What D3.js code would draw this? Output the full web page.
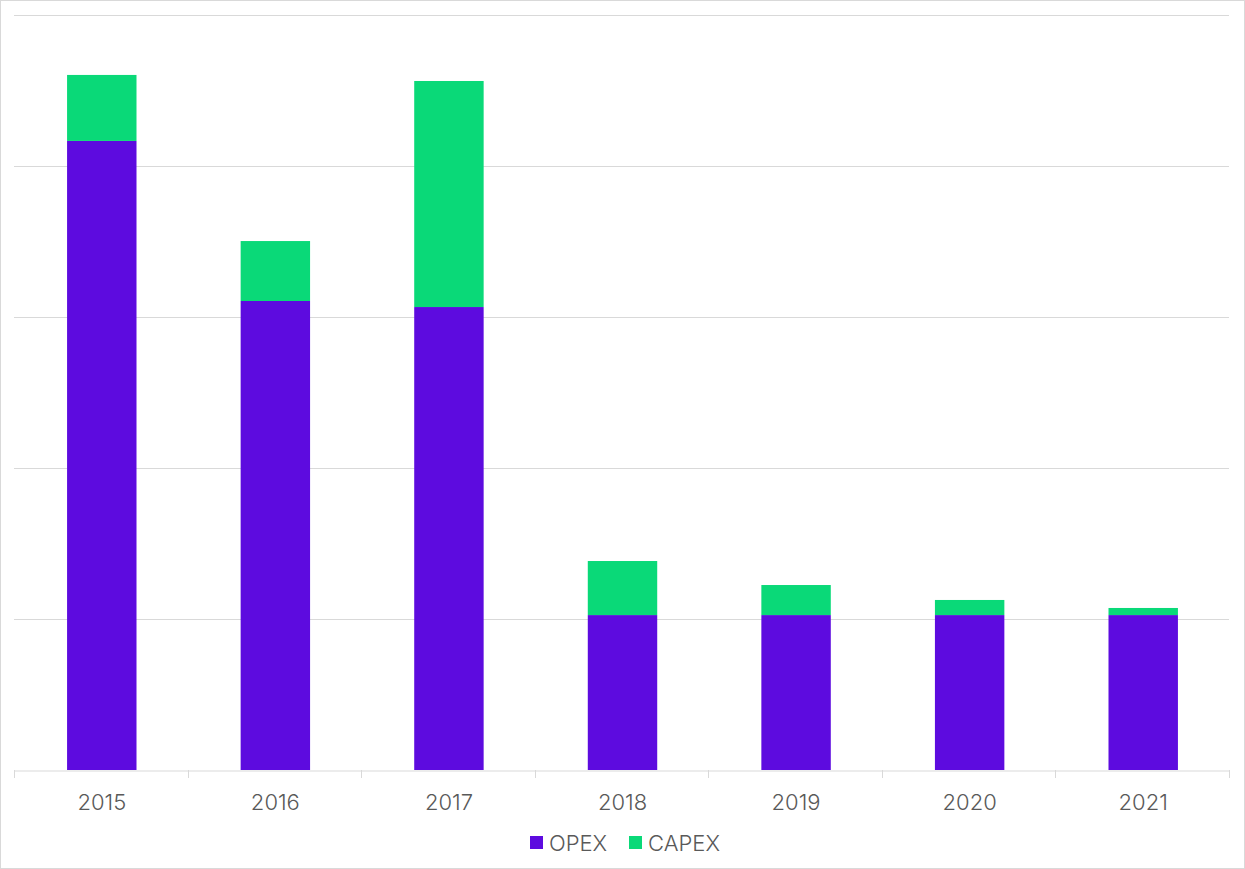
<!DOCTYPE html>
<html><head><meta charset="utf-8">
<script src="https://cdn.jsdelivr.net/npm/d3@7"></script>
<style>
html,body{margin:0;padding:0;background:#fff;}
svg{display:block;}
</style></head>
<body>
<svg id="chart" width="1245" height="869"></svg>
<script>
const years = ["2015","2016","2017","2018","2019","2020","2021"];
const opex  = [4.166, 3.106, 3.066, 1.026, 1.026, 1.026, 1.026];
const capex = [0.437, 0.397, 1.497, 0.358, 0.199, 0.100, 0.047];
const seriesNames = ["OPEX","CAPEX"];
const seriesColors = ["#5d0bdf","#0ad978"];
const yTicks = [0,1,2,3,4,5];

const W = 1245, H = 869;
const m = {left:14, right:16, top:15, bottom:99};
const svg = d3.select("#chart");
const font = "Inter, 'Open Sans', sans-serif";

svg.append("rect").attr("x",0.5).attr("y",0.5).attr("width",W-1).attr("height",H-1)
  .attr("fill","#fff").attr("stroke","#d9d9d9");

const x = d3.scaleBand().domain(years).range([m.left, W-m.right]).padding(0);
const y = d3.scaleLinear().domain([0,5]).range([H-m.bottom, m.top]);

// gridlines
svg.append("g").selectAll("line").data(yTicks.slice(1)).join("line")
  .attr("x1", m.left).attr("x2", W-m.right)
  .attr("y1", d=>Math.round(y(d))+0.5).attr("y2", d=>Math.round(y(d))+0.5)
  .attr("stroke","#d9d9d9").attr("stroke-width",1);

const rows = years.map((yr,i)=>({year:yr, OPEX:opex[i], CAPEX:capex[i]}));
const stack = d3.stack().keys(seriesNames)(rows);
const bw = x.bandwidth()*0.4;

svg.append("g").selectAll("g").data(stack).join("g")
  .attr("fill",(d,i)=>seriesColors[i])
  .selectAll("rect").data(d=>d).join("rect")
  .attr("x", d=>x(d.data.year)+(x.bandwidth()-bw)/2+1)
  .attr("width", bw)
  .attr("y", d=>y(d[1]))
  .attr("height", d=>y(d[0])-y(d[1]));

// x axis
const xAxis = d3.axisBottom(x).tickSize(0).tickPadding(24);
const gx = svg.append("g").attr("transform",`translate(0,${Math.round(y(0))+0.5})`).call(xAxis);
gx.select(".domain").attr("stroke","#d9d9d9");
gx.selectAll("text").attr("font-family",font).attr("font-size",22).attr("font-weight",300).attr("fill","#595959")
  .attr("dx", 1);
// band boundary ticks
const bounds = years.map(d=>x(d)).concat([x.range()[1]]);
svg.append("g").selectAll("line").data(bounds).join("line")
  .attr("x1",d=>Math.round(d)+0.5).attr("x2",d=>Math.round(d)+0.5)
  .attr("y1",Math.round(y(0))).attr("y2",Math.round(y(0))+8)
  .attr("stroke","#d9d9d9");

// legend
const legendX = [530, 629];
const lg = svg.append("g");
seriesNames.forEach((s,i)=>{
  lg.append("rect").attr("x",legendX[i]).attr("y",836).attr("width",13).attr("height",13).attr("fill",seriesColors[i]);
  lg.append("text").attr("x",legendX[i]+19).attr("y",851).text(s)
    .attr("font-family",font).attr("font-size",22).attr("font-weight",300).attr("fill","#595959");
});
</script>
</body></html>
